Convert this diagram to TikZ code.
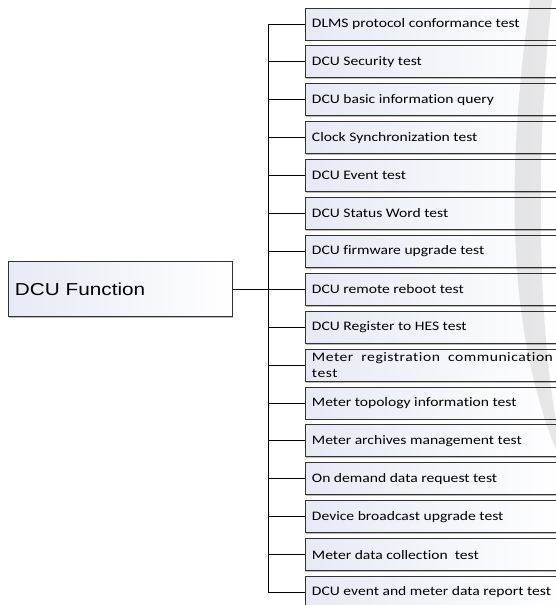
\documentclass[tikz,border=0pt]{standalone}
\usepackage{fontspec}
\usetikzlibrary{positioning,shadows}
\newfontfamily\testfont[FakeStretch=1.2,Ligatures=NoCommon]{Carlito}
\newfontfamily\rootfont[FakeStretch=1.2]{Liberation Sans}
\definecolor{BoxTint}{RGB}{231,234,245}
\hyphenpenalty=10000
\begin{document}
\begin{tikzpicture}[x=1pt,y=-1pt,node distance=5pt]
		\tikzstyle{TestStyle} = [shape=rectangle,draw=black!80,line width=0.9pt,left color=BoxTint,right color=white,
			minimum height=32pt,inner xsep=6.5pt,inner ysep=1pt,text width=244pt,align=justify,
			font=\testfont\fontsize{13}{15.5}\selectfont,
			drop shadow={shadow xshift=1pt,shadow yshift=-1.4pt,fill=black!45,opacity=.6}]
		\tikzstyle{RootStyle} = [TestStyle,minimum width=224pt,minimum height=55pt,text width=211pt,align=left,
			font=\rootfont\fontsize{17.3}{20}\selectfont]
		\tikzstyle{EdgeStyle} = [-,line width=0.9pt,black]

		\useasboundingbox (0,0) rectangle (556,605); \clip (0,0) rectangle (556,605);

		\node[RootStyle,anchor=west] (DCU Function) at (8,289) {DCU Function};
		\coordinate (Trunk) at (268,289);

		\node[TestStyle,anchor=west] (DLMS) at (305,24) {DLMS protocol conformance test};
		\node[TestStyle,below=of DLMS] (Security) {DCU Security test};
		\node[TestStyle,below=of Security] (Basic Info) {DCU basic information query};
		\node[TestStyle,below=of Basic Info] (Clock) {Clock Synchronization test};
		\node[TestStyle,below=of Clock] (Event) {DCU Event test};
		\node[TestStyle,below=of Event] (Status Word) {DCU Status Word test};
		\node[TestStyle,below=of Status Word] (Firmware) {DCU firmware upgrade test};
		\node[TestStyle,below=of Firmware] (Reboot) {DCU remote reboot test};
		\node[TestStyle,below=of Reboot] (Register) {DCU Register to HES test};
		\node[TestStyle,below=of Register] (Meter Registration) {\addfontfeature{LetterSpace=4}\makebox[241pt][s]{Meter registration communication}\\test};
		\node[TestStyle,below=of Meter Registration] (Topology) {Meter topology information test};
		\node[TestStyle,below=of Topology] (Archives) {Meter archives management test};
		\node[TestStyle,below=of Archives] (On Demand) {On demand data request test};
		\node[TestStyle,below=of On Demand] (Broadcast) {Device broadcast upgrade test};
		\node[TestStyle,below=of Broadcast] (Collection) {Meter data collection\ \ test};
		\node[TestStyle,below=of Collection] (Report) {DCU event and meter data report test};

		\draw[EdgeStyle] (DCU Function) -- (Trunk);
		\draw[EdgeStyle] (Trunk) |- (DLMS); \draw[EdgeStyle] (Trunk) |- (Security); \draw[EdgeStyle] (Trunk) |- (Basic Info);
		\draw[EdgeStyle] (Trunk) |- (Clock); \draw[EdgeStyle] (Trunk) |- (Event); \draw[EdgeStyle] (Trunk) |- (Status Word);
		\draw[EdgeStyle] (Trunk) |- (Firmware); \draw[EdgeStyle] (Trunk) |- (Reboot); \draw[EdgeStyle] (Trunk) |- (Register);
		\draw[EdgeStyle] (Trunk) |- (Meter Registration); \draw[EdgeStyle] (Trunk) |- (Topology); \draw[EdgeStyle] (Trunk) |- (Archives);
		\draw[EdgeStyle] (Trunk) |- (On Demand); \draw[EdgeStyle] (Trunk) |- (Broadcast); \draw[EdgeStyle] (Trunk) |- (Collection);
		\draw[EdgeStyle] (Trunk) |- (Report);

		\fill[black,opacity=.09] (530,0) .. controls (505,180) and (508,330) .. (556,450) -- (556,420) .. controls (538,320) and (535,150) .. (552,0) -- cycle;
	\end{tikzpicture}
\end{document}
